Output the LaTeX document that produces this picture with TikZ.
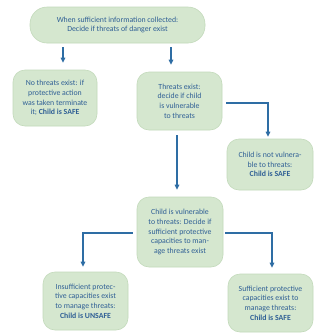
\documentclass[tikz,border=0pt]{standalone}
\usepackage{fontspec}
\setmainfont{Carlito}
\usetikzlibrary{arrows.meta,calc}
\definecolor{boxfill}{HTML}{D5E7CF}
\definecolor{boxline}{HTML}{C3DABB}
\definecolor{txt}{HTML}{2F5F95}
\definecolor{arr}{HTML}{2E6DA4}
\tikzset{
  box/.style={draw=boxline, line width=0.6pt, fill=boxfill, rounded corners=12pt, align=center,
    text=txt, font=\fontsize{7.8}{9.7}\selectfont, inner sep=2pt},
  conn/.style={draw=arr, line width=1.1pt, -{Triangle[width=4.5pt,length=5pt]}}
}
\begin{document}
\begin{tikzpicture}[x=1pt,y=-1pt]
\useasboundingbox[fill=white] (0,0) rectangle (332,333);
\node[box, rounded corners=17pt, minimum width=175pt, minimum height=36pt] (top) at (117.5,25)
  {When sufficient information collected:\\Decide if threats of danger exist};
\node[box, minimum width=84pt, minimum height=56pt] (no) at (55,98)
  {No threats exist: if\\protective action\\was taken terminate\\it; \textbf{Child is SAFE}};
\node[box, minimum width=85pt, minimum height=58pt] (thr) at (179.5,101)
  {Threats exist:\\decide if child\\is vulnerable\\to threats};
\node[box, minimum width=86pt, minimum height=51pt] (notv) at (270,164.5)
  {Child is not vulnera-\\ble to threats:\\\textbf{Child is SAFE}};
\node[box, minimum width=86pt, minimum height=70pt] (vul) at (180,232)
  {Child is vulnerable\\to threats: Decide if\\sufficient protective\\capacities to man-\\age threats exist};
\node[box, minimum width=85pt, minimum height=58pt] (ins) at (85.5,301)
  {Insufficient protec-\\tive capacities exist\\to manage threats:\\\textbf{Child is UNSAFE}};
\node[box, minimum width=85pt, minimum height=58pt] (suf) at (270.5,303)
  {Sufficient protective\\capacities exist to\\manage threats:\\\textbf{Child is SAFE}};
\draw[conn, shorten <=4pt, shorten >=7pt] ([xshift=8pt]no.north |- top.south) -- ([xshift=8pt]no.north);
\draw[conn, shorten <=4pt, shorten >=7pt] ([xshift=-8.5pt]thr.north |- top.south) -- ([xshift=-8.5pt]thr.north);
\draw[conn, shorten <=4pt, shorten >=2pt] ([yshift=-2pt]thr.east) -| ([xshift=-2pt]notv.north);
\draw[conn, shorten <=5pt, shorten >=7pt] ([xshift=-2.5pt]thr.south) -- ([xshift=-3pt]vul.north);
\draw[conn, shorten <=4pt, shorten >=5pt] ([yshift=-1pt]vul.west) -| ([xshift=-2.5pt]ins.north);
\draw[conn, shorten <=2pt, shorten >=6pt] ([yshift=-1pt]vul.east) -| ([xshift=1.5pt]suf.north);
\end{tikzpicture}
\end{document}
